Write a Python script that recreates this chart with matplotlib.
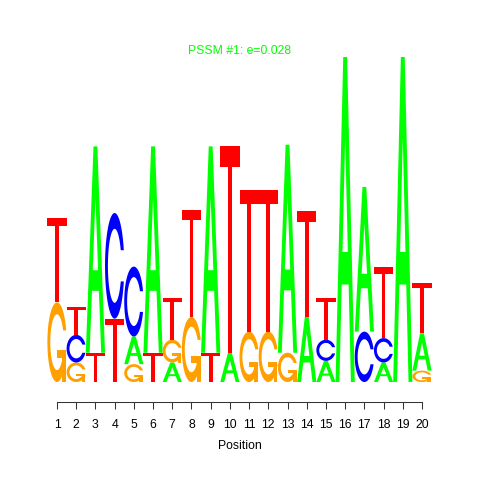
import numpy as np
import matplotlib
matplotlib.use('Agg')
import matplotlib.pyplot as plt

plt.rcParams['font.family'] = ['Liberation Sans', 'DejaVu Sans']

# ---- data (information content per letter, bits) ----
positions = list(range(1, 21))
tick_labels = [str(p) for p in positions]
A = [0, 0, 1.27, 0, 0.17, 1.27, 0.12, 0, 1.27, 0.18, 0, 0, 1.28, 0.40, 0.13, 2.0, 0.89, 0.12, 2.0, 0.23]
C = [0, 0.17, 0, 0.65, 0.43, 0, 0, 0, 0, 0, 0, 0, 0, 0, 0.13, 0, 0.31, 0.15, 0, 0]
G = [0.49, 0.12, 0, 0, 0.11, 0, 0.14, 0.40, 0, 0, 0.31, 0.31, 0.18, 0, 0, 0, 0, 0, 0, 0.07]
T = [0.52, 0.17, 0.18, 0.39, 0, 0.18, 0.26, 0.66, 0.18, 1.27, 0.87, 0.87, 0, 0.65, 0.26, 0, 0, 0.44, 0, 0.31]
bases = ['A', 'C', 'G', 'T']
heights = {'A': A, 'C': C, 'G': G, 'T': T}
colors = {'A': '#00FF00', 'C': '#0000FF', 'G': '#FFA000', 'T': '#FF0000'}
title = 'PSSM #1: e=0.028'
xlabel = 'Position'


# ---- letter shapes (unit box) ----
def shape_A():
    x = np.array([0, 4, 6, 10, 8, 6.8, 3.2, 2, 0]) * 0.1
    y = np.array([0, 10, 10, 0, 0, 3, 3, 0, 0]) * 0.1
    xi = np.array([3.6, 5, 6.4, 3.6]) * 0.1
    yi = np.array([4, 7.5, 4, 4]) * 0.1
    return [(x, y, None), (xi, yi, 'white')]


def shape_T():
    x = np.array([0, 10, 10, 6, 6, 4, 4, 0]) * 0.1
    y = np.array([10, 10, 9, 9, 0, 0, 9, 9]) * 0.1
    return [(x, y, None)]


def c_outline():
    a1 = np.linspace(0.3 + np.pi / 2, np.pi, 100)
    a2 = np.linspace(np.pi, 1.5 * np.pi, 100)
    xl1 = 0.5 + 0.5 * np.sin(a1)
    yl1 = 0.5 + 0.5 * np.cos(a1)
    xl2 = 0.5 + 0.5 * np.sin(a2)
    yl2 = 0.5 + 0.5 * np.cos(a2)
    xl = np.concatenate([xl1, xl2])
    yl = np.concatenate([yl1, yl2])
    x = np.concatenate([xl, xl[::-1]])
    y = np.concatenate([yl, 1 - yl[::-1]])
    xi1 = 0.5 + 0.35 * np.sin(a1)
    yi1 = 0.5 + 0.35 * np.cos(a1)
    keep = yi1 <= yl1.max()
    xi1 = xi1[keep]
    yi1 = yi1[keep]
    yi1[0] = yl1.max()
    xi2 = 0.5 + 0.35 * np.sin(a2)
    yi2 = 0.5 + 0.35 * np.cos(a2)
    xi = np.concatenate([xi1, xi2])
    yi = np.concatenate([yi1, yi2])
    x1 = np.concatenate([xi, xi[::-1]])
    y1 = np.concatenate([yi, 1 - yi[::-1]])
    x = np.concatenate([x, x1[::-1]])
    y = np.concatenate([y, y1[::-1]])
    return x, y, xl1.max()


def shape_C():
    x, y, _ = c_outline()
    return [(x, y, None)]


def shape_G():
    x, y, r1 = c_outline()
    h1 = 0.4
    xa = np.array([r1, 0.5, 0.5, r1 - 0.2, r1 - 0.2, r1, r1])
    ya = np.array([h1, h1, h1 - 0.1, h1 - 0.1, 0, 0, h1])
    return [(x, y, None), (xa, ya, None)]


shapes = {'A': shape_A(), 'C': shape_C(), 'G': shape_G(), 'T': shape_T()}

# ---- figure ----
W = H = 480
fig = plt.figure(figsize=(4.8, 4.8), dpi=100)
left_px, right_px = 47.4, 431.6
base_px, top_px = 382, 57
ax = fig.add_axes([left_px / W, (H - base_px) / H, (right_px - left_px) / W, (base_px - top_px) / H])
ax.set_xlim(0.5, 20.5)
ax.set_ylim(0, 2)

for j, pos in enumerate(positions):
    col = [(heights[b][j], b) for b in bases]
    order = sorted(range(4), key=lambda i: (col[i][0], i))
    ypos = 0.0
    for i in order:
        ht, b = col[i]
        if ht <= 0:
            continue
        for (sx, sy, fc) in shapes[b]:
            X = (pos - 0.5) + sx
            Y = ypos + ht * sy
            ax.fill(X, Y, color=fc if fc else colors[b], lw=0, antialiased=True)
        ypos += ht

for s in ['left', 'top', 'right']:
    ax.spines[s].set_visible(False)
ax.spines['bottom'].set_position(('outward', 14.4))
ax.spines['bottom'].set_bounds(1, 20)
ax.spines['bottom'].set_color('#333333')
ax.spines['bottom'].set_linewidth(0.75)
ax.set_yticks([])
ax.set_xticks(positions)
ax.set_xticklabels(tick_labels, fontsize=8.8)
ax.tick_params(axis='x', direction='out', length=5, width=0.75, color='#333333', pad=7, labelcolor='black')

fig.text(0.5, 1 - 446 / H, xlabel, ha='center', va='center', fontsize=8.8)
fig.text(0.5, 1 - 51 / H, title, ha='center', va='center', fontsize=8.8, color='#00FF00')

fig.savefig('out.png', dpi=100)
